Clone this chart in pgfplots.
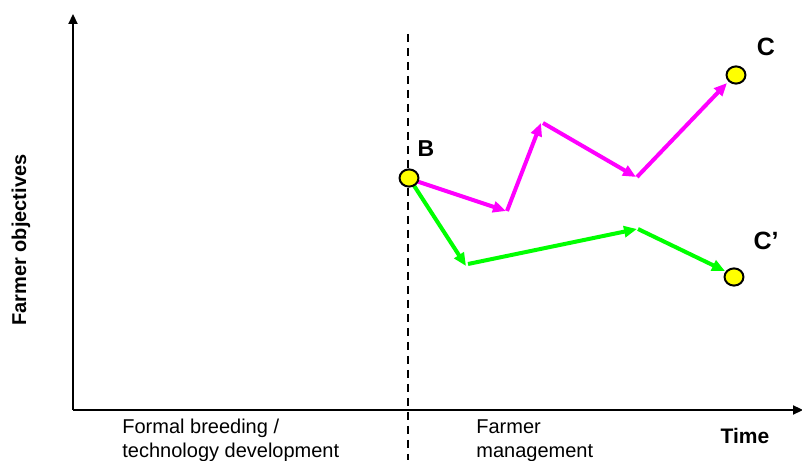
\documentclass[border=0pt]{standalone}
\usepackage{pgfplots}
\pgfplotsset{compat=1.18}
\usetikzlibrary{arrows.meta}
\usepackage{fontspec}
\setmainfont{Liberation Sans}
\definecolor{mag}{RGB}{255,0,255}
\definecolor{grn}{RGB}{0,255,0}
\definecolor{yel}{RGB}{255,255,0}
\begin{document}
\begin{tikzpicture}
\begin{axis}[
  scale only axis, width=401pt, height=230pt,
  xmin=0, xmax=802, ymin=0, ymax=460,
  axis lines=none, clip=false,
  every node/.style={font=\fontsize{10}{9.6}\selectfont},
]
% axes
\addplot[black, line width=1.1pt, -{Triangle[length=5pt,width=4.5pt]}] coordinates {(73,50) (73,446)};
\addplot[black, line width=1.1pt, -{Triangle[length=5pt,width=4.5pt]}] coordinates {(73,50) (803,50)};
% dashed divider
\addplot[black, line width=0.7pt, dash pattern=on 4pt off 3pt] coordinates {(408,426) (408,0)};
% magenta path
\addplot[mag, line width=2pt, -{Triangle[length=6.5pt,width=5.5pt]}] coordinates {(410,281) (506,249)};
\addplot[mag, line width=2pt, -{Triangle[length=6.5pt,width=5.5pt]}] coordinates {(507,249) (541,337)};
\addplot[mag, line width=2pt, -{Triangle[length=6.5pt,width=5.5pt]}] coordinates {(543,337) (636,283)};
\addplot[mag, line width=2pt, -{Triangle[length=6.5pt,width=5.5pt]}] coordinates {(637,283) (727,377)};
% green path
\addplot[grn, line width=2pt, -{Triangle[length=6.5pt,width=5.5pt]}] coordinates {(411,279) (466,194)};
\addplot[grn, line width=2pt, -{Triangle[length=6.5pt,width=5.5pt]}] coordinates {(468,196) (637,231)};
\addplot[grn, line width=2pt, -{Triangle[length=6.5pt,width=5.5pt]}] coordinates {(638,231) (725,189)};
% points
\addplot[only marks, mark=*, mark size=4.3pt, mark options={fill=yel, draw=black, line width=1pt, xscale=1.1}] coordinates {(409,282) (736,385) (734,183)};
% labels
\node[font=\bfseries\fontsize{11.5}{12}\selectfont] at (axis cs:426,311) {B};
\node[font=\bfseries\fontsize{12.5}{12}\selectfont] at (axis cs:766,413) {C};
\node[font=\bfseries\fontsize{12.5}{12}\selectfont] at (axis cs:766,219) {C’};
\node[font=\bfseries\fontsize{10.5}{12}\selectfont] at (axis cs:745,24) {Time};
\node[font=\bfseries\fontsize{10}{12}\selectfont, rotate=90] at (axis cs:21,220) {Farmer objectives};
\node[anchor=north west, align=left, inner sep=0pt] at (axis cs:122,41) {Formal breeding /\\technology development};
\node[anchor=north west, align=left, inner sep=0pt] at (axis cs:476,41) {Farmer\\management};
\end{axis}
\pgfresetboundingbox
\useasboundingbox (current axis.south west) rectangle (current axis.north east);
\end{tikzpicture}
\end{document}
